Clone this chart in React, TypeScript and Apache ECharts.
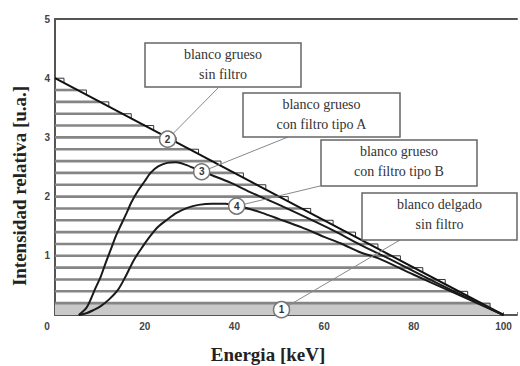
import React, { useEffect, useRef } from "react";
import * as echarts from "echarts";

// Axis ticks
const xTickValues = [0, 20, 40, 60, 80, 100];
const yTickValues = [0, 1, 2, 3, 4, 5];

// Curve 2: thick target, no filter (Kramers line)
const kramers: number[][] = [[0, 4], [100, 0]];

// Curve 3: thick target, filter type A
const filterA: number[][] = [
  [5.3, 0], [7, 0.12], [8, 0.27], [9, 0.45], [10.2, 0.65], [11.3, 0.88], [12.4, 1.1],
  [13.5, 1.32], [14.7, 1.52], [16, 1.73], [17, 1.9], [18.5, 2.1], [20, 2.26], [21.3, 2.4],
  [23, 2.51], [25, 2.57], [27, 2.58], [29, 2.54], [32, 2.45], [35, 2.36], [39, 2.24],
  [44, 2.06], [50, 1.86], [56, 1.65], [62, 1.43], [68, 1.19], [75, 0.93], [82, 0.66],
  [90, 0.36], [100, 0],
];

// Curve 4: thick target, filter type B
const filterB: number[][] = [
  [5.3, 0], [7, 0.03], [8.5, 0.08], [10.2, 0.15], [12, 0.26], [14, 0.42], [15.8, 0.66],
  [17.6, 0.93], [19.5, 1.15], [21.3, 1.34], [23, 1.49], [25, 1.61], [27, 1.72], [29.5, 1.81],
  [32, 1.86], [35, 1.88], [38, 1.88], [40.6, 1.85], [43, 1.8], [46, 1.73], [50, 1.62],
  [55, 1.48], [60, 1.32], [64, 1.2], [68, 1.06], [72, 0.96], [80, 0.68], [90, 0.34], [100, 0],
];

// Curve 1: thin target, no filter (flat band)
const thinTarget: number[][] = [[0, 0.2], [97, 0.2], [97, 0.12], [100, 0]];

// Stacked thin-target layers (horizontal stripes) : level and end energy
const stripeLevels = [0.2, 0.4, 0.6, 0.8, 1.0, 1.2, 1.4, 1.6, 1.8, 2.0, 2.2, 2.4, 2.6, 2.8, 3.0, 3.2, 3.4, 3.6, 3.8, 4.0];
const stripeEnds = [95, 90, 85, 80, 75, 70, 65, 60, 55, 50, 45, 40, 35, 30, 25, 20, 15, 10, 5, 0];

// Numbered markers on the curves: label, energy, intensity
const markerLabels = ["1", "2", "3", "4"];
const markerX = [50.5, 25.1, 32.7, 40.5];
const markerY = [0.09, 2.97, 2.42, 1.84];

// Callout boxes
const boxLines = [
  ["blanco grueso", "sin filtro"],
  ["blanco grueso", "con filtro tipo A"],
  ["blanco grueso", "con filtro tipo B"],
  ["blanco delgado", "sin filtro"],
];
const boxMarker = ["2", "3", "4", "1"];

const xTitle = "Energia [keV]";
const yTitle = "Intensidad relativa [u.a.]";

export default function App() {
  const ref = useRef<HTMLDivElement>(null);

  useEffect(() => {
    if (!ref.current) return;
    const chart = echarts.init(ref.current, null, { renderer: "svg" });
    const slope = (kramers[1][1] - kramers[0][1]) / (kramers[1][0] - kramers[0][0]);
    const notchW = 2;

    const stripeData = stripeLevels.map((lv, i) => [lv, stripeEnds[i]]);

    const labelStyle = {
      color: "#444",
      fontFamily: "Liberation Sans",
      fontWeight: "bold" as const,
      fontSize: 10,
    };

    chart.setOption({
      animation: false,
      grid: { left: 55, right: 2, top: 19, bottom: 51, containLabel: false },
      xAxis: [
        {
          type: "value",
          min: 0,
          max: 103,
          interval: 20,
          position: "bottom",
          axisLine: { lineStyle: { color: "#555", width: 2 } },
          axisTick: { inside: true, length: 3, lineStyle: { color: "#777" } },
          splitLine: { show: false },
          axisLabel: {
            ...labelStyle,
            margin: 6,
            formatter: (v: number) => (xTickValues.includes(v) && v !== 0 ? String(v) : ""),
          },
        },
        {
          type: "value",
          min: 0,
          max: 103,
          position: "top",
          axisLine: { show: true, lineStyle: { color: "#555", width: 2 } },
          axisTick: { show: false },
          axisLabel: { show: false },
          splitLine: { show: false },
        },
      ],
      yAxis: {
        type: "value",
        min: 0,
        max: 5,
        interval: 1,
        axisLine: { show: true, lineStyle: { color: "#555", width: 2 } },
        axisTick: { show: false },
        splitLine: { show: false },
        axisLabel: {
          ...labelStyle,
          margin: 5,
          formatter: (v: number) => (yTickValues.includes(v) && v !== 0 ? String(v) : ""),
        },
      },
      series: [
        {
          type: "line",
          data: thinTarget,
          symbol: "none",
          lineStyle: { width: 0 },
          areaStyle: { color: "#c9c9c9", opacity: 1, origin: 0 },
          z: 1,
        },
        {
          type: "custom",
          data: stripeData,
          encode: { x: 1, y: 0 },
          z: 2,
          renderItem: (params: any, api: any) => {
            const lv = api.value(0);
            const xe = api.value(1);
            const p0 = api.coord([0, lv]);
            const p1 = api.coord([xe, lv]);
            const p2 = api.coord([xe + notchW, lv]);
            const p3 = api.coord([xe + notchW, lv + slope * notchW]);
            return {
              type: "group",
              children: [
                {
                  type: "line",
                  shape: { x1: p0[0], y1: p0[1], x2: p1[0], y2: p1[1] },
                  style: { stroke: "#858585", lineWidth: 2.6 },
                },
                {
                  type: "polyline",
                  shape: { points: [p1, p2, p3] },
                  style: { stroke: "#333", lineWidth: 1, fill: "none" },
                },
              ],
            };
          },
        },
        {
          type: "line",
          data: kramers,
          symbol: "none",
          lineStyle: { color: "#111", width: 2 },
          z: 4,
        },
        {
          type: "line",
          data: filterA,
          symbol: "none",
          smooth: 0.3,
          lineStyle: { color: "#1a1a1a", width: 2 },
          z: 4,
        },
        {
          type: "line",
          data: filterB,
          symbol: "none",
          smooth: 0.3,
          lineStyle: { color: "#1a1a1a", width: 2 },
          z: 4,
        },
      ],
    });

    // Annotation layout (pixel positions of the callout boxes)
    const boxRects = [
      [145, 43, 156, 44],
      [243, 93, 157, 44],
      [321, 140, 156, 46],
      [362, 193, 155, 47],
    ];
    const boxAnchors = [
      [218, 88],
      [288, 137],
      [320, 186],
      [400, 240],
    ];

    const markerPx: Record<string, number[]> = {};
    markerLabels.forEach((lab, i) => {
      markerPx[lab] = chart.convertToPixel({ gridIndex: 0 }, [markerX[i], markerY[i]]) as number[];
    });

    const serif = "'Liberation Serif', 'DejaVu Serif', serif";
    const graphics: any[] = [];
    boxRects.forEach((r, i) => {
      const c = markerPx[boxMarker[i]];
      graphics.push({
        type: "line",
        z: 100,
        shape: { x1: boxAnchors[i][0], y1: boxAnchors[i][1], x2: c[0], y2: c[1] },
        style: { stroke: "#888", lineWidth: 1 },
      });
    });
    markerLabels.forEach((lab) => {
      const c = markerPx[lab];
      graphics.push({
        type: "circle",
        z: 101,
        shape: { cx: c[0], cy: c[1], r: 8 },
        style: { fill: "#fff", stroke: "#777", lineWidth: 1.5 },
      });
      graphics.push({
        type: "text",
        z: 102,
        x: c[0],
        y: c[1],
        style: {
          text: lab,
          align: "center",
          verticalAlign: "middle",
          fill: "#333",
          fontFamily: "Liberation Sans",
          fontWeight: "bold",
          fontSize: 10,
        },
      });
    });
    boxRects.forEach((r, i) => {
      graphics.push({
        type: "rect",
        z: 103,
        shape: { x: r[0], y: r[1], width: r[2], height: r[3] },
        style: { fill: "#fff", stroke: "#666", lineWidth: 1.5 },
      });
      boxLines[i].forEach((t, j) => {
        graphics.push({
          type: "text",
          z: 104,
          x: r[0] + r[2] / 2,
          y: r[1] + 11 + j * 20,
          style: {
            text: t,
            align: "center",
            verticalAlign: "middle",
            fill: "#333",
            fontFamily: serif,
            fontSize: 14,
          },
        });
      });
    });
    // Shared origin label
    graphics.push({
      type: "text",
      z: 104,
      x: 47,
      y: 326,
      style: {
        text: "0", align: "center", verticalAlign: "middle", fill: "#444",
        fontFamily: "Liberation Sans", fontWeight: "bold", fontSize: 10,
      },
    });
    // Axis titles
    graphics.push({
      type: "text",
      z: 104,
      x: 268,
      y: 354,
      style: {
        text: xTitle, align: "center", verticalAlign: "middle", fill: "#222",
        fontFamily: serif, fontWeight: "bold", fontSize: 19,
      },
    });
    graphics.push({
      type: "text",
      z: 104,
      x: 19,
      y: 186,
      rotation: Math.PI / 2,
      style: {
        text: yTitle, align: "center", verticalAlign: "middle", fill: "#222",
        fontFamily: serif, fontWeight: "bold", fontSize: 19,
      },
    });

    chart.setOption({ graphic: graphics });

    return () => chart.dispose();
  }, []);

  return <div ref={ref} style={{ width: 520, height: 366, position: "absolute", left: 0, top: 0 }} />;
}
